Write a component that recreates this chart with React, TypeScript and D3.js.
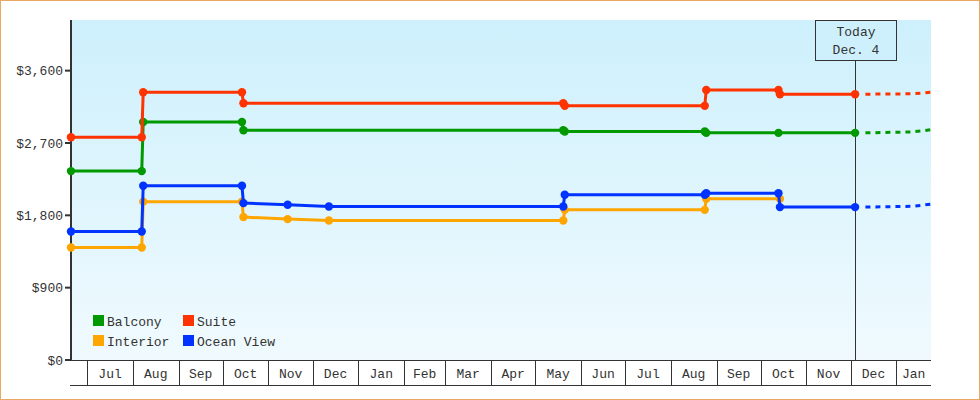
import React from "react";
import * as d3 from "d3";

const W = 980;
const H = 400;

const seriesNames = ["Balcony", "Interior", "Ocean View", "Suite"];
const seriesColors = ["#009900", "#ffa500", "#0033ff", "#ff3300"];

const balcony: [string, number][] = [
  ["2014-06-20", 2350], ["2014-08-07", 2350], ["2014-08-08", 2962], ["2014-10-14", 2962],
  ["2014-10-15", 2859], ["2015-05-20", 2859], ["2015-05-21", 2842], ["2015-08-24", 2842],
  ["2015-08-25", 2826], ["2015-10-13", 2826], ["2015-12-04", 2826],
];
const interior: [string, number][] = [
  ["2014-06-20", 1400], ["2014-08-07", 1400], ["2014-08-08", 1970], ["2014-10-14", 1970],
  ["2014-10-15", 1778], ["2014-11-14", 1753], ["2014-12-12", 1736], ["2015-05-20", 1736],
  ["2015-05-21", 1868], ["2015-08-24", 1868], ["2015-08-25", 2005], ["2015-10-14", 2005],
];
const oceanView: [string, number][] = [
  ["2014-06-20", 1599], ["2014-08-07", 1599], ["2014-08-08", 2167], ["2014-10-14", 2167],
  ["2014-10-15", 1952], ["2014-11-14", 1931], ["2014-12-12", 1910], ["2015-05-20", 1910],
  ["2015-05-21", 2055], ["2015-08-24", 2055], ["2015-08-25", 2075], ["2015-10-13", 2075],
  ["2015-10-14", 1902], ["2015-12-04", 1902],
];
const suite: [string, number][] = [
  ["2014-06-20", 2772], ["2014-08-07", 2772], ["2014-08-08", 3332], ["2014-10-14", 3332],
  ["2014-10-15", 3195], ["2015-05-20", 3195], ["2015-05-21", 3162], ["2015-08-24", 3162],
  ["2015-08-25", 3360], ["2015-10-13", 3360], ["2015-10-14", 3307], ["2015-12-04", 3307],
];

const balconyForecast: [string, number][] = [["2015-12-11", 2826], ["2016-01-12", 2838], ["2016-01-25", 2866]];
const oceanViewForecast: [string, number][] = [["2015-12-11", 1902], ["2016-01-12", 1912], ["2016-01-25", 1940]];
const suiteForecast: [string, number][] = [["2015-12-11", 3307], ["2016-01-12", 3312], ["2016-01-25", 3332]];

const yTicks = [0, 900, 1800, 2700, 3600];
const todayDate = "2015-12-04";
const todayLabel = ["Today", "Dec. 4"];

const parse = (s: string) => {
  const [y, m, d] = s.split("-").map(Number);
  return new Date(y, m - 1, d);
};

const FONT = "'Liberation Mono', 'DejaVu Sans Mono', monospace";
const TXT = "#333";

export default function App() {
  const left = 71, right = 931, top = 20, bottom = 360;
  const x = d3.scaleTime()
    .domain([new Date(2014, 5, 20), new Date(2016, 0, 24, 12)])
    .range([left, right]);
  const y = d3.scaleLinear().domain([0, 4230]).range([bottom, top]);

  const line = d3.line<[string, number]>()
    .x((d) => x(parse(d[0])))
    .y((d) => y(d[1]));

  const series = [balcony, interior, oceanView, suite];
  const forecasts: { data: [string, number][]; color: string }[] = [
    { data: balconyForecast, color: seriesColors[0] },
    { data: oceanViewForecast, color: seriesColors[2] },
    { data: suiteForecast, color: seriesColors[3] },
  ];

  const [d0, d1] = x.domain();
  const months = d3.timeMonth.range(d3.timeMonth.floor(d0), d1);
  const fmt = d3.timeFormat("%b");
  const tx = x(parse(todayDate));

  return (
    <svg width={W} height={H} style={{ position: "absolute", left: 0, top: 0 }} fontFamily={FONT}>
      <defs>
        <linearGradient id="bg" x1="0" y1="0" x2="0" y2="1">
          <stop offset="0%" stopColor="#cdf0fc" />
          <stop offset="100%" stopColor="#f0fafe" />
        </linearGradient>
      </defs>
      <rect x={0} y={0} width={W} height={H} fill="#fff" />
      <rect x={0.5} y={0.5} width={W - 1} height={H - 1} fill="none" stroke="#e8a864" />
      <rect x={left} y={top} width={right - left} height={bottom - top} fill="url(#bg)" />

      {/* y axis */}
      <line x1={left} x2={left} y1={top} y2={bottom + 1} stroke={TXT} strokeWidth={2} />
      {yTicks.map((t) => (
        <g key={t}>
          <line x1={left - 6} x2={left} y1={y(t)} y2={y(t)} stroke={TXT} strokeWidth={2} />
          <text x={left - 8} y={y(t)} dy="0.35em" textAnchor="end" fontSize={13} fill={TXT}>
            {d3.format("$,")(t)}
          </text>
        </g>
      ))}

      {/* x axis */}
      <line x1={left} x2={right} y1={bottom + 0.5} y2={bottom + 0.5} stroke={TXT} />
      <line x1={left - 1} x2={right} y1={385.5} y2={385.5} stroke={TXT} />
      {months.map((m) => {
        const next = d3.timeMonth.offset(m, 1);
        const a = Math.max(x(m), left);
        const b = Math.min(x(next), right);
        const showSep = m >= d0;
        return (
          <g key={m.toISOString()}>
            {showSep && (
              <line x1={Math.round(x(m)) + 0.5} x2={Math.round(x(m)) + 0.5} y1={bottom} y2={385} stroke={TXT} />
            )}
            {b - a > 25 && (
              <text x={(a + b) / 2} y={373} dy="0.35em" textAnchor="middle" fontSize={13} fill={TXT}>
                {fmt(m)}
              </text>
            )}
          </g>
        );
      })}

      {/* today */}
      <line x1={Math.round(tx) + 0.5} x2={Math.round(tx) + 0.5} y1={60} y2={bottom} stroke={TXT} />
      <rect x={815.5} y={20.5} width={81} height={40} fill="#cdf0fc" stroke={TXT} />
      <text x={856} y={36} textAnchor="middle" fontSize={13} fill={TXT}>{todayLabel[0]}</text>
      <text x={856} y={54} textAnchor="middle" fontSize={13} fill={TXT}>{todayLabel[1]}</text>

      {/* forecasts */}
      {forecasts.map((f, i) => (
        <path key={i} d={line(f.data) || ""} fill="none" stroke={f.color} strokeWidth={3} strokeDasharray="5,5" />
      ))}

      {/* series */}
      {series.map((s, i) => (
        <g key={seriesNames[i]}>
          <path d={line(s) || ""} fill="none" stroke={seriesColors[i]} strokeWidth={3} strokeLinejoin="round" />
          {s.map((d, j) => (
            <circle key={j} cx={x(parse(d[0]))} cy={y(d[1])} r={4.2} fill={seriesColors[i]} />
          ))}
        </g>
      ))}

      {/* legend */}
      {[0, 3, 1, 2].map((si, k) => {
        const col = k % 2;
        const row = Math.floor(k / 2);
        const lx = 93 + col * 90;
        const ly = 315 + row * 20;
        return (
          <g key={si}>
            <rect x={lx} y={ly} width={11} height={11} fill={seriesColors[si]} />
            <text x={lx + 14} y={ly + 6} dy="0.35em" fontSize={13} fill={TXT}>{seriesNames[si]}</text>
          </g>
        );
      })}
    </svg>
  );
}
